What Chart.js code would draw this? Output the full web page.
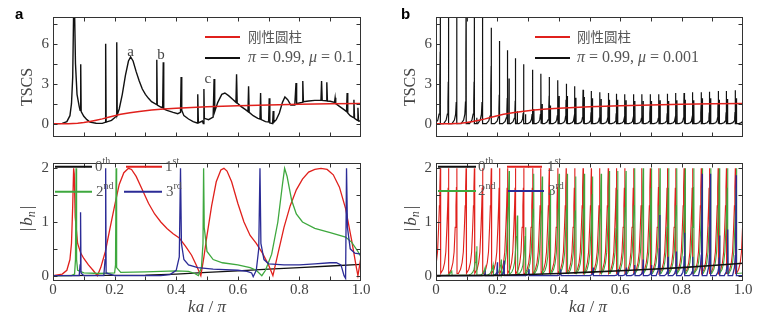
<!DOCTYPE html>
<html><head><meta charset="utf-8">
<script src="https://cdn.jsdelivr.net/npm/chart.js@4.4.1/dist/chart.umd.min.js"></script>
<style>
html,body{margin:0;padding:0;background:#fff;}
body{width:771px;height:327px;position:relative;overflow:hidden}
canvas{position:absolute}
</style></head><body>
<canvas id="aTop" width="385" height="150" style="left:0px;top:0px"></canvas>
<canvas id="aBot" width="385" height="177" style="left:0px;top:150px"></canvas>
<canvas id="bTop" width="386" height="150" style="left:385px;top:0px"></canvas>
<canvas id="bBot" width="386" height="177" style="left:385px;top:150px"></canvas>
<script>
// ---------- tick values / labels ----------
const xTickVals = [0, 0.2, 0.4, 0.6, 0.8, 1.0];
const xTickLabels = ['0', '0.2', '0.4', '0.6', '0.8', '1.0'];
const xMinorVals = [0.1, 0.2, 0.3, 0.4, 0.5, 0.6, 0.7, 0.8, 0.9];
const yTopVals = [0, 3, 6];
const yTopLabels = ['0', '3', '6'];
const yTopMarks = [0, 1.5, 3, 4.5, 6, 7.5];
const yBotVals = [0, 1, 2];
const yBotLabels = ['0', '1', '2'];
const yBotMarks = [0, 0.5, 1, 1.5, 2];

// ---------- rigid cylinder (red) TSCS ----------
const rigidX = [0,0.05,0.08,0.1,0.12,0.14,0.16,0.18,0.2,0.22,0.25,0.28,0.32,0.36,0.4,0.45,0.5,0.6,0.7,0.8,0.9,1.0];
const rigidY = [0,0.0,0.03,0.08,0.16,0.26,0.36,0.48,0.6,0.7,0.82,0.92,1.02,1.1,1.16,1.22,1.27,1.34,1.4,1.45,1.49,1.52];

// ---------- panel a: TSCS, pi=0.99, mu=0.1 ----------
const aTscsX = [0,0.03,0.045,0.055,0.06,0.064,0.067,0.07,0.073,0.078,0.085,0.088,0.09,0.0915,0.1,0.11,0.12,0.14,0.16,0.169,0.171,0.1725,0.19,0.2,0.205,0.207,0.2085,0.215,0.225,0.235,0.245,0.252,0.26,0.27,0.28,0.29,0.3,0.31,0.32,0.335,0.337,0.3385,0.35,0.356,0.358,0.3595,0.37,0.39,0.405,0.414,0.416,0.418,0.425,0.44,0.455,0.468,0.47,0.472,0.485,0.488,0.49,0.4915,0.505,0.52,0.523,0.525,0.535,0.548,0.558,0.57,0.585,0.594,0.596,0.598,0.61,0.625,0.633,0.635,0.637,0.65,0.665,0.672,0.674,0.676,0.69,0.7,0.702,0.704,0.71,0.713,0.715,0.717,0.725,0.735,0.745,0.753,0.762,0.772,0.785,0.789,0.791,0.8,0.809,0.811,0.813,0.83,0.85,0.87,0.872,0.874,0.887,0.889,0.891,0.9,0.914,0.916,0.918,0.93,0.945,0.953,0.955,0.957,0.965,0.975,0.977,0.979,0.988,0.99,0.992,1.0];
const aTscsY = [0,0.02,0.15,0.6,1.5,3.5,8.5,8.5,4.5,2.2,1.3,1.0,4.45,0.9,0.55,0.3,0.12,0.03,0.02,0.1,6.0,0.12,0.25,0.45,0.55,6.1,0.65,1.1,2.2,3.6,4.7,5.0,4.7,3.9,3.2,2.6,2.2,1.9,1.65,1.45,4.8,1.4,1.25,1.2,4.6,1.1,1.0,0.85,0.75,0.85,3.5,1.0,0.6,0.35,0.15,0.05,2.2,0.05,0.2,0.0,2.6,0.4,0.3,0.5,3.35,0.9,1.6,2.2,2.3,2.1,1.8,1.6,3.7,1.55,1.3,1.05,0.9,2.8,0.85,0.6,0.4,0.35,2.3,0.3,0.15,0.12,1.9,0.05,0.02,0.0,0.95,0.1,0.3,0.8,1.6,2.0,1.8,1.4,1.4,3.05,1.5,1.55,1.6,3.2,1.65,1.7,1.75,1.75,3.2,1.75,1.72,3.1,1.7,1.68,1.6,1.95,1.5,1.3,1.05,0.9,2.3,0.8,0.6,0.45,1.8,0.4,0.25,1.2,0.2,0.2];

// ---------- panel a: |b_n| ----------
const aB0X = [0,0.3,0.4,0.5,0.6,0.7,0.8,0.9,1.0];
const aB0Y = [0,0.01,0.03,0.06,0.09,0.12,0.15,0.18,0.21];
const aB1X = [0,0.03,0.045,0.055,0.06,0.064,0.067,0.069,0.072,0.08,0.09,0.1,0.115,0.13,0.144,0.155,0.17,0.185,0.2,0.215,0.23,0.245,0.255,0.27,0.29,0.31,0.33,0.35,0.37,0.39,0.41,0.43,0.45,0.465,0.48,0.49,0.5,0.515,0.53,0.545,0.555,0.565,0.58,0.6,0.62,0.64,0.66,0.68,0.7,0.714,0.73,0.75,0.77,0.79,0.81,0.83,0.85,0.87,0.89,0.91,0.93,0.95,0.97,0.985,0.99,1.0];
const aB1Y = [0,0.03,0.1,0.3,0.6,1.3,2.0,1.9,1.1,0.6,0.42,0.32,0.2,0.1,0.0,0.15,0.45,0.88,1.3,1.7,1.92,2.0,1.98,1.85,1.6,1.35,1.15,1.0,0.88,0.78,0.7,0.55,0.38,0.2,0.0,0.35,0.75,1.3,1.75,1.97,2.0,1.95,1.75,1.35,1.0,0.75,0.6,0.42,0.2,0.0,0.4,0.9,1.3,1.6,1.8,1.93,1.98,2.0,1.98,1.88,1.65,1.25,0.65,0.15,0.0,0.35];
const aB2X = [0,0.06,0.07,0.073,0.075,0.0765,0.08,0.1,0.15,0.2,0.203,0.205,0.2065,0.22,0.3,0.4,0.44,0.46,0.472,0.482,0.487,0.489,0.491,0.5,0.52,0.55,0.6,0.64,0.66,0.678,0.69,0.71,0.73,0.745,0.752,0.76,0.775,0.79,0.81,0.85,0.9,0.95,0.97,0.99,1.0];
const aB2Y = [0,0.0,0.03,0.3,2.0,0.3,0.1,0.05,0.04,0.05,0.2,2.0,0.15,0.06,0.07,0.09,0.08,0.04,0.0,0.15,0.6,2.0,0.9,0.45,0.3,0.24,0.2,0.15,0.1,0.0,0.1,0.4,1.0,1.7,2.0,1.85,1.4,1.15,1.0,0.88,0.8,0.72,0.62,0.45,0.35];
const aB3X = [0,0.085,0.088,0.0895,0.091,0.1,0.165,0.169,0.171,0.1725,0.2,0.35,0.38,0.4,0.41,0.414,0.417,0.425,0.44,0.47,0.52,0.6,0.63,0.645,0.65,0.66,0.668,0.672,0.675,0.685,0.7,0.75,0.8,0.85,0.9,0.92,0.935,0.945,0.95,0.953,0.956,0.965,0.98,1.0];
const aB3Y = [0,0.0,0.2,1.18,0.05,0.0,0.0,0.3,2.0,0.05,0.0,0.0,0.02,0.1,0.35,2.0,0.6,0.3,0.2,0.15,0.12,0.1,0.08,0.05,-0.02,0.1,0.5,2.0,0.6,0.3,0.22,0.2,0.2,0.22,0.24,0.24,0.2,0.0,-0.05,2.0,0.9,0.5,0.42,0.4];

// ---------- panel b: TSCS, pi=0.99, mu=0.001 (resonance positions and peak heights) ----------
const bMainX = [0.014,0.041,0.068,0.098,0.125,0.152,0.180,0.207,0.233,0.259,0.286,0.315,0.342,0.369,0.397,0.424,0.452,0.479,0.506,0.534,0.561,0.588,0.615,0.644,0.671,0.698,0.726,0.754,0.781,0.808,0.836,0.864,0.891,0.919,0.946,0.975,1.003];
const bMainH = [9,9,9,9,9,9,7.2,6.2,5.5,4.9,4.45,4.05,3.75,3.5,3.25,3.0,2.8,2.55,2.45,2.35,2.3,2.25,2.2,2.2,2.2,2.2,2.2,2.25,2.3,2.3,2.35,2.35,2.4,2.45,2.45,2.5,2.5];
const bSecX = [0.133,0.238,0.265,0.292,0.319,0.346,0.373,0.401,0.428,0.456,0.483,0.51,0.538,0.565,0.592,0.619,0.648,0.675,0.702,0.73,0.758,0.785,0.812,0.84,0.868,0.895,0.923,0.95,0.979];
const bSecH = [0.45,3.38,0.93,0.7,1.1,1.48,1.36,2.07,2.07,1.95,2.0,1.9,1.85,1.8,1.8,1.75,1.7,1.7,1.7,1.75,1.7,1.75,1.8,1.75,1.9,1.9,1.8,1.85,1.9];

// ---------- panel b: |b_n| ----------
const bB0X = [0,0.2,0.3,0.4,0.5,0.6,0.7,0.8,0.9,1.0];
const bB0Y = [0,0.005,0.02,0.04,0.065,0.09,0.12,0.15,0.19,0.23];
const bB1X = [0.014,0.041,0.068,0.098,0.125,0.152,0.180,0.207,0.233,0.259,0.286,0.315,0.342,0.369,0.397,0.424,0.452,0.479,0.506,0.534,0.561,0.588,0.615,0.644,0.671,0.698,0.726,0.754,0.781,0.808,0.836,0.864,0.891,0.919,0.946,0.975,1.004];
const bB1H = [2,2,2,2,2,2,2,2,2,2,2,2,2,2,2,2,2,2,2,2,2,2,2,2,2,2,2,2,2,2,2,2,2,2,2,2,2];
const bB2X = [0.052,0.133,0.16,0.186,0.213,0.238,0.265,0.292,0.319,0.346,0.373,0.401,0.428,0.456,0.483,0.51,0.538,0.565,0.592,0.619,0.648,0.675,0.702,0.73,0.758,0.785,0.812,0.84,0.868,0.895,0.923,0.95,0.979];
const bB2H = [0.1,0.55,0.15,0.2,0.3,1.95,1.12,0.9,1.9,1.85,1.6,1.9,1.9,1.85,1.9,1.85,1.9,1.95,1.95,1.95,2,2,2,2,2,2,2,2,2,2,2,2,2];
const bB3X = [0.16,0.2,0.222,0.303,0.407,0.512,0.594,0.62,0.648,0.675,0.702,0.729,0.756,0.783,0.81,0.837,0.867,0.894,0.924,0.951,0.978];
const bB3H = [0.05,0.25,0.28,0.12,0.12,0.15,0.12,0.15,0.2,0.3,0.2,1.13,0.35,0.45,0.8,0.35,1.9,1.9,0.75,0.86,1.87];

// ---------- line-shape profiles for the narrow resonances (offset in ka/pi, fraction of peak) ----------
const SHAPE_J = [[-0.016,0],[-0.008,0.03],[-0.004,0.08],[-0.002,0.18],[-0.001,0.35],[-0.0004,0.6],[0,1],[0.0004,0]];
const SHAPE_NARROW = [[-0.0015,0],[-0.0005,0.35],[0,1],[0.0004,0]];
const SHAPE_B = [[-0.025,0.02],[-0.018,0.06],[-0.013,0.12],[-0.009,0.22],[-0.0055,0.45],[-0.003,0.65],[-0.0015,0.82],[0,1],[0.0005,0.02]];
const SHAPE_BLUE = [[-0.012,0],[-0.006,0.08],[-0.003,0.2],[-0.0015,0.45],[0,1],[0.0005,0]];

function pts(xs, ys) { return xs.map((x, i) => ({x: x, y: ys[i]})); }
function spikes(xs, hs, shape) {
  const out = [];
  xs.forEach((p, i) => shape.forEach(s => out.push({x: p + s[0], y: hs[i] * s[1]})));
  return out;
}
function merged() { return [].concat(...arguments).sort((a, b) => a.x - b.x); }

const RED = '#e0201c', BLACK = '#111111', GREEN = '#3ea83e', BLUE = '#2b2b96';
const SERIF = '"Liberation Serif", "Times New Roman", serif';
const GRAY = '#444';

// ---------- decorations (frame, inward ticks, legends, labels) ----------
const SUP = (t) => [t, '10px ' + SERIF, -5];
const NUM = (t) => [t, '15px ' + SERIF, 0];
const piMu = (v) => [['π', 'italic 16px ' + SERIF, 0], [' = 0.99, ', '16px ' + SERIF, 0], ['μ', 'italic 16px ' + SERIF, 0], [' = ' + v, '16px ' + SERIF, 0]];
const CJK = [['刚性圆柱', '13.5px "Noto Sans CJK SC"', 0]];
const TSCS_T = [['TSCS', '16px ' + SERIF, 0]];
const BN_T = [['|', '17px ' + SERIF, 0], [' ', '8px ' + SERIF, 0], ['b', 'italic 17px ' + SERIF, 0], ['n', 'italic 12px ' + SERIF, 4], [' ', '8px ' + SERIF, 0], ['|', '17px ' + SERIF, 0]];
const KA_T = [['k', 'italic 17px ' + SERIF, 0], ['a', 'italic 17px ' + SERIF, 0], [' / ', '17px ' + SERIF, 0], ['π', 'italic 17px ' + SERIF, 0]];

const DECO = {
  aTop: { yMarks: yTopMarks,
    legend: [{color: RED, x1: 205, x2: 240, y: 37, tx: 248, parts: CJK},
             {color: BLACK, x1: 205, x2: 240, y: 58, tx: 248, parts: piMu('0.1')}],
    notes: [['a', 0.252, 5.4], ['b', 0.351, 5.12], ['c', 0.503, 3.38]],
    panel: ['a', 15, 19], ytitle: [28, 87, TSCS_T] },
  aBot: { yMarks: yBotMarks,
    legend: [{color: BLACK, x1: 55, x2: 92, y: 16.7, tx: 95, parts: [NUM('0'), SUP('th')]},
             {color: RED, x1: 126, x2: 162, y: 16.7, tx: 165, parts: [NUM('1'), SUP('st')]},
             {color: GREEN, x1: 55, x2: 92, y: 41.7, tx: 96, parts: [NUM('2'), SUP('nd')]},
             {color: BLUE, x1: 124, x2: 162, y: 41.7, tx: 166, parts: [NUM('3'), SUP('rd')]}],
    notes: [], ytitle: [28, 68.5, BN_T], xtitle: [207, 158, KA_T] },
  bTop: { yMarks: yTopMarks,
    legend: [{color: RED, x1: 150, x2: 185, y: 37, tx: 192, parts: CJK},
             {color: BLACK, x1: 150, x2: 185, y: 58, tx: 192, parts: piMu('0.001')}],
    notes: [], panel: ['b', 16, 19], ytitle: [26, 87, TSCS_T] },
  bBot: { yMarks: yBotMarks,
    legend: [{color: BLACK, x1: 53, x2: 91, y: 16.7, tx: 93, parts: [NUM('0'), SUP('th')]},
             {color: RED, x1: 122, x2: 157, y: 16.7, tx: 162, parts: [NUM('1'), SUP('st')]},
             {color: GREEN, x1: 53, x2: 91, y: 41, tx: 93, parts: [NUM('2'), SUP('nd')]},
             {color: BLUE, x1: 123, x2: 159, y: 41, tx: 163, parts: [NUM('3'), SUP('rd')]}],
    notes: [], ytitle: [26.5, 68.5, BN_T], xtitle: [203, 158, KA_T] }
};

function drawParts(ctx, parts, x, y) {
  parts.forEach(p => { ctx.font = p[1]; ctx.fillText(p[0], x, y + p[2]); x += ctx.measureText(p[0]).width; });
}
function partsWidth(ctx, parts) {
  let w = 0; parts.forEach(p => { ctx.font = p[1]; w += ctx.measureText(p[0]).width; }); return w;
}

const deco = {
  id: 'deco',
  afterDatasetsDraw(chart) {
    const c = DECO[chart.canvas.id];
    const ctx = chart.ctx, a = chart.chartArea, sx = chart.scales.x, sy = chart.scales.y;
    ctx.save();
    const L = Math.round(a.left) + 0.5, R = Math.round(a.right) - 0.5, T = Math.round(a.top) + 0.5, B = Math.round(a.bottom) - 0.5;
    ctx.strokeStyle = '#333'; ctx.lineWidth = 1;
    ctx.strokeRect(L, T, R - L, B - T);
    ctx.beginPath();
    xMinorVals.forEach(v => { const p = Math.round(sx.getPixelForValue(v)) + 0.5; ctx.moveTo(p, B); ctx.lineTo(p, B - 4); ctx.moveTo(p, T); ctx.lineTo(p, T + 4); });
    c.yMarks.forEach(v => { const p = Math.round(sy.getPixelForValue(v)) + 0.5; ctx.moveTo(L, p); ctx.lineTo(L + 4, p); ctx.moveTo(R, p); ctx.lineTo(R - 4, p); });
    ctx.stroke();
    ctx.textBaseline = 'middle'; ctx.textAlign = 'left';
    c.legend.forEach(it => {
      ctx.strokeStyle = it.color; ctx.lineWidth = 2;
      ctx.beginPath(); ctx.moveTo(it.x1, it.y); ctx.lineTo(it.x2, it.y); ctx.stroke();
      ctx.fillStyle = '#555';
      drawParts(ctx, it.parts, it.tx, it.y);
    });
    ctx.fillStyle = '#444'; ctx.textAlign = 'center'; ctx.font = '15px ' + SERIF;
    c.notes.forEach(n => ctx.fillText(n[0], sx.getPixelForValue(n[1]), sy.getPixelForValue(n[2])));
    ctx.textAlign = 'left';
    if (c.ytitle) {
      const [cx, cy, parts] = c.ytitle;
      ctx.save(); ctx.translate(cx, cy); ctx.rotate(-Math.PI / 2);
      ctx.fillStyle = GRAY;
      drawParts(ctx, parts, -partsWidth(ctx, parts) / 2, 0);
      ctx.restore();
    }
    if (c.xtitle) {
      const [cx, cy, parts] = c.xtitle;
      ctx.fillStyle = GRAY;
      drawParts(ctx, parts, cx - partsWidth(ctx, parts) / 2, cy);
    }
    if (c.panel) {
      ctx.font = 'bold 15px "Liberation Sans", Arial, sans-serif'; ctx.fillStyle = '#000'; ctx.textBaseline = 'alphabetic';
      ctx.fillText(c.panel[0], c.panel[1], c.panel[2]);
    }
    ctx.restore();
  }
};

function makeChart(id, cfg) {
  const top = cfg.top;
  return new Chart(document.getElementById(id), {
    type: 'line',
    data: { datasets: cfg.datasets.map(d => ({
      data: d.data, borderColor: d.color, borderWidth: d.w, pointRadius: 0, pointHoverRadius: 0,
      tension: 0, fill: false, order: d.order })) },
    options: {
      responsive: false, animation: false, events: [],
      layout: { padding: cfg.pad },
      plugins: { legend: { display: false }, tooltip: { enabled: false } },
      scales: {
        x: { type: 'linear', min: 0, max: 1,
          grid: { display: false, drawTicks: false }, border: { display: false },
          ticks: top ? { display: false } : { color: GRAY, font: { family: SERIF, size: 15 }, padding: 0, maxRotation: 0, autoSkip: false,
                   callback: (v, i) => xTickLabels[i] },
          afterBuildTicks: s => { s.ticks = xTickVals.map(v => ({ value: v })); },
          afterFit: s => { s.height = cfg.xh; } },
        y: { type: 'linear', min: cfg.ymin, max: cfg.ymax,
          grid: { display: false, drawTicks: false }, border: { display: false },
          ticks: { color: GRAY, font: { family: SERIF, size: 15 }, padding: 4, autoSkip: false,
                   callback: (v, i) => cfg.ylabels[i] },
          afterBuildTicks: s => { s.ticks = cfg.yvals.map(v => ({ value: v })); },
          afterFit: s => { s.width = cfg.yw; } }
      }
    },
    plugins: [deco]
  });
}

makeChart('aTop', { top: true, pad: {left: 0, right: 24, top: 17, bottom: 7}, xh: 0, yw: 53,
  ymin: -1, ymax: 8, yvals: yTopVals, ylabels: yTopLabels,
  datasets: [
    { data: pts(rigidX, rigidY), color: RED, w: 1.5, order: 0 },
    { data: pts(aTscsX, aTscsY), color: BLACK, w: 1.4, order: 1 }
  ] });

makeChart('aBot', { top: false, pad: {left: 0, right: 24, top: 6, bottom: 0}, xh: 46, yw: 53,
  ymin: -0.1, ymax: 2.1, yvals: yBotVals, ylabels: yBotLabels,
  datasets: [
    { data: pts(aB0X, aB0Y), color: BLACK, w: 1.3, order: 3 },
    { data: pts(aB1X, aB1Y), color: RED, w: 1.3, order: 2 },
    { data: pts(aB2X, aB2Y), color: GREEN, w: 1.3, order: 1 },
    { data: pts(aB3X, aB3Y), color: BLUE, w: 1.3, order: 0 }
  ] });

makeChart('bTop', { top: true, pad: {left: 0, right: 28, top: 17, bottom: 7}, xh: 0, yw: 51,
  ymin: -1, ymax: 8, yvals: yTopVals, ylabels: yTopLabels,
  datasets: [
    { data: pts(rigidX, rigidY), color: RED, w: 1.5, order: 0 },
    { data: merged(spikes(bMainX, bMainH, SHAPE_J), spikes(bSecX, bSecH, SHAPE_NARROW)), color: BLACK, w: 1.2, order: 1 }
  ] });

makeChart('bBot', { top: false, pad: {left: 0, right: 28, top: 6, bottom: 0}, xh: 46, yw: 51,
  ymin: -0.1, ymax: 2.1, yvals: yBotVals, ylabels: yBotLabels,
  datasets: [
    { data: pts(bB0X, bB0Y), color: BLACK, w: 1.6, order: 0 },
    { data: merged(spikes(bB1X, bB1H, SHAPE_B)), color: RED, w: 1.1, order: 3 },
    { data: merged([{x: 0, y: 0}, {x: 1, y: 0.05}], spikes(bB2X, bB2H, SHAPE_B)), color: GREEN, w: 1.1, order: 2 },
    { data: merged([{x: 0, y: 0}, {x: 1, y: 0}], spikes(bB3X, bB3H, SHAPE_BLUE)), color: BLUE, w: 1.3, order: 1 }
  ] });
</script>
</body></html>
